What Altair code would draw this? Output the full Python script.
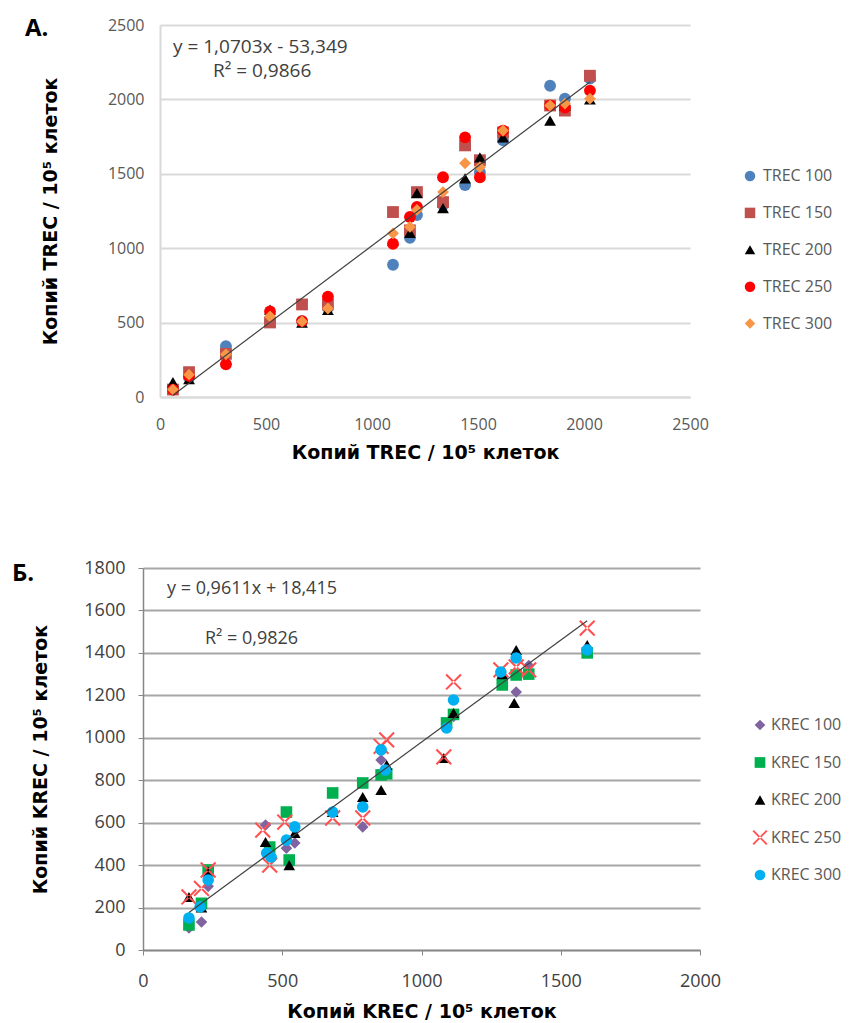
import altair as alt
import pandas as pd

FONT = "Open Sans"
TFONT = "DejaVu Sans"

# ---------------- Panel A: TREC ----------------
trec_names = ["TREC 100", "TREC 150", "TREC 200", "TREC 250", "TREC 300"]
trec_colors = ["#4F81BD", "#C0504D", "#000000", "#FF0000", "#F79646"]
trec_shapes = ["circle", "square", "triangle-up", "circle", "diamond"]
trec_x = [61, 137, 311, 519, 670, 792, 1099, 1179, 1212, 1335, 1439, 1509, 1618, 1840, 1910, 2028]
trec_100 = [50, 130, 341, 510, 510, 600, 889, 1070, 1223, 1290, 1424, 1511, 1725, 2092, 2005, 2140]
trec_150 = [50, 167, 290, 501, 622, 622, 1243, 1120, 1377, 1310, 1691, 1591, 1778, 1959, 1925, 2159]
trec_200 = [100, 120, 250, 588, 500, 585, 1050, 1103, 1370, 1270, 1470, 1611, 1745, 1858, 1960, 2000]
trec_250 = [50, 140, 220, 575, 510, 675, 1030, 1210, 1277, 1477, 1745, 1477, 1790, 1960, 1945, 2059]
trec_300 = [50, 150, 287, 541, 508, 595, 1100, 1143, 1257, 1377, 1571, 1544, 1791, 1959, 1972, 2005]
trec_slope, trec_intercept = 1.0703, -53.349
trec_eq = "y = 1,0703x - 53,349"
trec_r2 = "R² = 0,9866"
trec_ticks = [0, 500, 1000, 1500, 2000, 2500]

# ---------------- Panel B: KREC ----------------
krec_names = ["KREC 100", "KREC 150", "KREC 200", "KREC 250", "KREC 300"]
krec_colors = ["#8064A2", "#00B050", "#000000", "#FF5050", "#00B0F0"]
X_PATH = "M-1.4,-1.15L-1.15,-1.4L1.4,1.15L1.15,1.4Z M1.4,-1.15L1.15,-1.4L-1.4,1.15L-1.15,1.4Z"
krec_shapes = ["diamond", "square", "triangle-up", X_PATH, "circle"]
krec_100_x = [165, 210, 234, 440, 515, 545, 681, 789, 855, 870, 1090, 1115, 1290, 1340, 1385, 1595]
krec_100_y = [104, 132, 300, 589, 480, 504, 650, 580, 895, 850, 1050, 1100, 1290, 1216, 1340, 1410]
krec_150_x = [165, 210, 234, 455, 515, 525, 681, 789, 855, 875, 1090, 1115, 1290, 1340, 1385, 1595]
krec_150_y = [118, 220, 377, 485, 650, 424, 740, 787, 825, 830, 1070, 1110, 1249, 1296, 1300, 1400]
krec_200_x = [165, 210, 234, 440, 525, 545, 681, 789, 855, 875, 1080, 1115, 1290, 1333, 1340, 1595]
krec_200_y = [250, 200, 370, 509, 400, 551, 650, 721, 754, 872, 905, 1117, 1300, 1164, 1414, 1437]
krec_250_x = [165, 210, 234, 430, 455, 509, 681, 789, 855, 875, 1080, 1115, 1285, 1340, 1385, 1595]
krec_250_y = [250, 290, 377, 565, 400, 603, 622, 622, 960, 990, 910, 1263, 1320, 1334, 1320, 1517]
krec_300_x = [165, 205, 234, 444, 460, 515, 545, 681, 789, 855, 870, 1090, 1115, 1285, 1340, 1595]
krec_300_y = [151, 203, 330, 457, 438, 518, 580, 650, 674, 943, 848, 1046, 1178, 1310, 1376, 1414]
krec_slope, krec_intercept = 0.9611, 18.415
krec_eq = "y = 0,9611x + 18,415"
krec_r2 = "R² = 0,9826"
krec_x_ticks = [0, 500, 1000, 1500, 2000]
krec_y_ticks = [0, 200, 400, 600, 800, 1000, 1200, 1400, 1600, 1800]

# ---------------- build tables ----------------
def long_table(names, xs_list, ys_list):
    rows = []
    for i, (n, xs, ys) in enumerate(zip(names, xs_list, ys_list)):
        for xv, yv in zip(xs, ys):
            rows.append({"x": xv, "y": yv, "series": n, "idx": i})
    return pd.DataFrame(rows)

df_top = long_table(trec_names, [trec_x] * 5, [trec_100, trec_150, trec_200, trec_250, trec_300])
df_bot = long_table(
    krec_names,
    [krec_100_x, krec_150_x, krec_200_x, krec_250_x, krec_300_x],
    [krec_100_y, krec_150_y, krec_200_y, krec_250_y, krec_300_y],
)

def trend(df, slope, intercept):
    xs = [df["x"].min(), df["x"].max()]
    return pd.DataFrame({"x": xs, "y": [slope * v + intercept for v in xs]})

def note(text, px, py, size, weight="normal", color="#404040"):
    return alt.Chart(pd.DataFrame({"t": [text]})).mark_text(
        align="left", baseline="middle", font=FONT, fontSize=size, fontWeight=weight,
        color=color).encode(x=alt.value(px), y=alt.value(py), text="t:N")

# ---------------- panel A ----------------
TW, TH = 530, 372
top_x_axis = alt.Axis(values=trec_ticks, format="d", grid=False, ticks=False, labelFlush=False,
                      domainColor="#d9d9d9", domainWidth=2, labelFont=FONT, labelFontSize=16,
                      labelColor="#595959", labelPadding=19, titleFont=TFONT, titleFontSize=19,
                      titleFontWeight="bold", titleColor="#000000", titlePadding=11)
top_y_axis = alt.Axis(values=trec_ticks, format="d", grid=True, gridColor="#d9d9d9", gridWidth=2,
                      ticks=False, domainColor="#d9d9d9", domainWidth=2, labelFont=FONT,
                      labelFontSize=16, labelColor="#595959", labelPadding=16, titleFont=TFONT,
                      titleFontSize=19, titleFontWeight="bold", titleColor="#000000", titlePadding=47)
top_leg = alt.Legend(title=None, orient="none", legendX=599, legendY=143, symbolSize=110,
                     labelFont=FONT, labelFontSize=16, labelColor="#595959", rowPadding=20.9,
                     labelOffset=5, padding=0, symbolStrokeWidth=0, symbolOpacity=1)
xt = alt.X("x:Q", scale=alt.Scale(domain=[0, 2500], nice=False), axis=top_x_axis,
           title="Копий TREC / 10⁵ клеток")
yt = alt.Y("y:Q", scale=alt.Scale(domain=[0, 2500], nice=False), axis=top_y_axis,
           title="Копий TREC / 10⁵ клеток")

top_pts = alt.Chart(df_top).mark_point(filled=True, opacity=1, size=140, strokeWidth=0).encode(
    x=xt, y=yt,
    color=alt.Color("series:N", scale=alt.Scale(domain=trec_names, range=trec_colors), legend=top_leg),
    shape=alt.Shape("series:N", scale=alt.Scale(domain=trec_names, range=trec_shapes), legend=top_leg),
    order=alt.Order("idx:Q"),
)
top_line = alt.Chart(trend(df_top, trec_slope, trec_intercept)).mark_line(
    color="#404040", strokeWidth=1.2).encode(x="x:Q", y="y:Q")

top = alt.layer(
    top_pts, top_line,
    note(trec_eq, 13, 22, 19),
    note(trec_r2, 53, 46, 19),
    note("А.", -135, 4, 24, "bold", "#000000"),
).properties(width=TW, height=TH)

# ---------------- panel B ----------------
BW, BH = 557, 382
bot_x_axis = alt.Axis(values=krec_x_ticks, format="d", grid=False, ticks=True, tickSize=5,
                      labelFlush=False,
                      tickColor="#868686", domainColor="#868686", domainWidth=1.5, labelFont=FONT,
                      labelFontSize=18, labelColor="#404040", labelPadding=17, titleFont=TFONT,
                      titleFontSize=19, titleFontWeight="bold", titleColor="#000000", titlePadding=12)
bot_y_axis = alt.Axis(values=krec_y_ticks, format="d", grid=True, gridColor="#a6a6a6", gridWidth=2,
                      ticks=True, tickSize=5, tickColor="#868686", domainColor="#868686",
                      domainWidth=1.5, labelFont=FONT, labelFontSize=18, labelColor="#404040",
                      labelPadding=13, titleFont=TFONT, titleFontSize=19, titleFontWeight="bold",
                      titleColor="#000000", titlePadding=33)
bot_leg = alt.Legend(title=None, orient="none", legendX=609, legendY=149, symbolSize=115,
                     labelFont=FONT, labelFontSize=16, labelColor="#595959", rowPadding=21.5,
                     labelOffset=3, padding=0, symbolStrokeWidth=0, symbolOpacity=1)
xb = alt.X("x:Q", scale=alt.Scale(domain=[0, 2000], nice=False), axis=bot_x_axis,
           title="Копий KREC / 10⁵ клеток")
yb = alt.Y("y:Q", scale=alt.Scale(domain=[0, 1800], nice=False), axis=bot_y_axis,
           title="Копий KREC / 10⁵ клеток")

bot_pts = alt.Chart(df_bot).mark_point(filled=True, opacity=1, size=135, strokeWidth=0).encode(
    x=xb, y=yb,
    color=alt.Color("series:N", scale=alt.Scale(domain=krec_names, range=krec_colors), legend=bot_leg),
    shape=alt.Shape("series:N", scale=alt.Scale(domain=krec_names, range=krec_shapes), legend=bot_leg),
    order=alt.Order("idx:Q"),
)
bot_line = alt.Chart(trend(df_bot, krec_slope, krec_intercept)).mark_line(
    color="#404040", strokeWidth=1.2).encode(x="x:Q", y="y:Q")

bottom = alt.layer(
    bot_pts, bot_line,
    note(krec_eq, 24, 21, 18),
    note(krec_r2, 62, 71, 18),
    note("Б.", -131, 6, 24, "bold", "#000000"),
).properties(width=BW, height=BH)

# spacer shifts panel A's plot to the right of panel B's plot
spacer = alt.Chart(pd.DataFrame({"v": [0]})).mark_point(opacity=0).encode(
    x=alt.value(0), y=alt.value(0)).properties(width=17, height=10)
top_row = alt.hconcat(spacer, top, spacing=0, bounds="flush")

chart = alt.vconcat(top_row, bottom, spacing=97).resolve_scale(
    color="independent", shape="independent"
).properties(
    padding={"left": 4, "top": 9, "right": 0, "bottom": 5}
).configure_view(stroke=None)

chart.save("out.html", embed_options={"renderer": "svg", "actions": False})
